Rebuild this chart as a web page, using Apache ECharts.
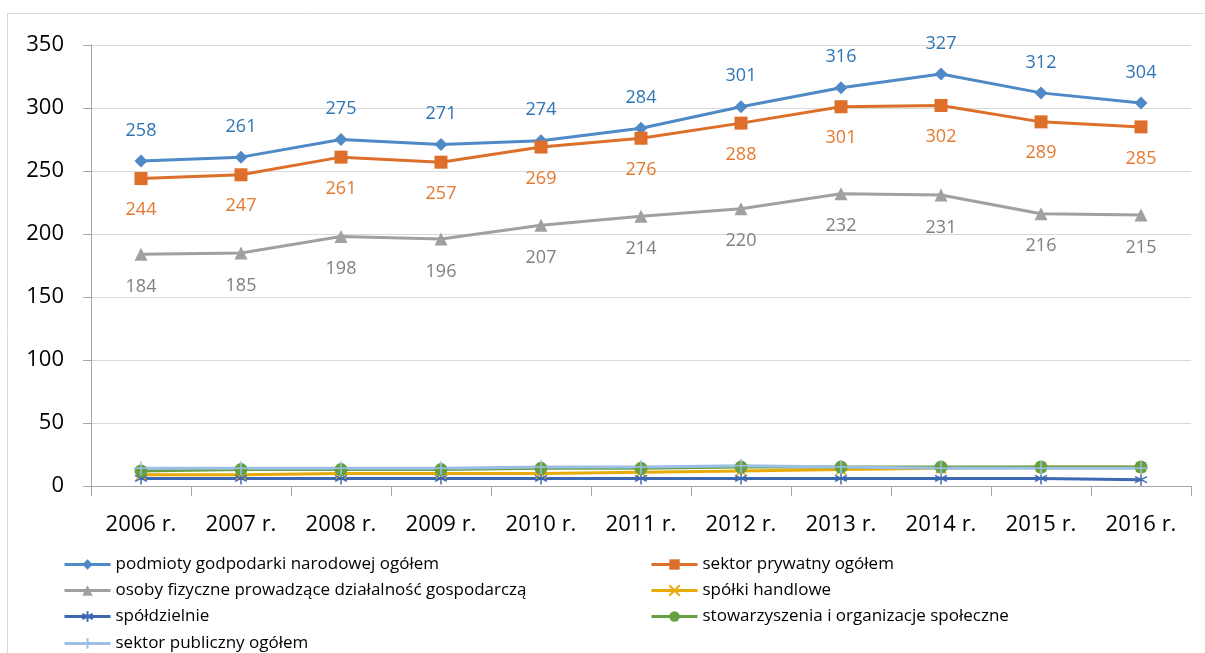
<!DOCTYPE html>
<html><head><meta charset="utf-8">
<script src="https://cdn.jsdelivr.net/npm/echarts@6/dist/echarts.min.js"></script>
<style>html,body{margin:0;padding:0;background:#fff}#c{width:1205px;height:653px}</style>
</head><body><div id="c"></div>
<script>
const categories = ['2006 r.','2007 r.','2008 r.','2009 r.','2010 r.','2011 r.','2012 r.','2013 r.','2014 r.','2015 r.','2016 r.'];
const podmiotyOgolem = [258,261,275,271,274,284,301,316,327,312,304];
const sektorPrywatny = [244,247,261,257,269,276,288,301,302,289,285];
const osobyFizyczne = [184,185,198,196,207,214,220,232,231,216,215];
const spolkiHandlowe = [9,9,10,10,10,11,12,13,14,15,15];
const spoldzielnie = [6,6,6,6,6,6,6,6,6,6,5];
const stowarzyszenia = [12,13,13,13,14,14,15,15,15,15,15];
const sektorPubliczny = [14,14,14,14,15,15,16,15,14,14,14];
const yTicks = [0,50,100,150,200,250,300,350];

const FONT = '"Open Sans", "Noto Sans", sans-serif';
const chart = echarts.init(document.getElementById('c'));

function mk(name, data, color, symbol, size, extra) {
  return Object.assign({
    name, type: 'line', data, symbol, symbolSize: size,
    lineStyle: { color, width: 3 },
    itemStyle: { color },
    z: 2
  }, extra || {});
}
const xPath = 'path://M0,0L10,10M10,0L0,10';
const starPath = 'path://M5,0L5,10M0.7,2.5L9.3,7.5M9.3,2.5L0.7,7.5';
const plusPath = 'path://M5,0L5,10M0,5L10,5';

const series = [
  mk('podmioty godpodarki narodowej ogółem', podmiotyOgolem, '#4F89C6', 'diamond', 13, {
    label: { show: true, position: 'top', distance: 15, color: '#2E75B6', fontSize: 18, fontFamily: FONT }
  }),
  mk('sektor prywatny ogółem', sektorPrywatny, '#DD6F2A', 'rect', 13, {
    label: { show: true, position: 'bottom', distance: 16, color: '#E5782F', fontSize: 18, fontFamily: FONT }
  }),
  mk('osoby fizyczne prowadzące działalność gospodarczą', osobyFizyczne, '#A0A0A0', 'triangle', 13, {
    label: { show: true, position: 'bottom', distance: 17, color: '#7F7F7F', fontSize: 18, fontFamily: FONT }
  }),
  mk('spółki handlowe', spolkiHandlowe, '#E7AA06', xPath, 10, {
    itemStyle: { color: 'none', borderColor: '#E7AA06', borderWidth: 1.5 }
  }),
  mk('spółdzielnie', spoldzielnie, '#3D68B2', starPath, 12, {
    itemStyle: { color: 'none', borderColor: '#3D68B2', borderWidth: 1.5 }
  }),
  mk('stowarzyszenia i organizacje społeczne', stowarzyszenia, '#66A043', 'circle', 13),
  mk('sektor publiczny ogółem', sektorPubliczny, '#9CC0E5', plusPath, 14, {
    itemStyle: { color: 'none', borderColor: '#9CC0E5', borderWidth: 1.5 }
  })
];

const legendText = { fontSize: 17, fontFamily: FONT, color: '#000' };
// legend layout: [series index, left, row center y]
const legendSlots = [[0, 63, 562], [1, 650, 562], [2, 63, 588], [3, 650, 588], [4, 63, 614], [5, 650, 614], [6, 63, 641]];
const legends = legendSlots.map(([i, left, cy]) => ({
  left, top: cy - 6, itemWidth: 46, itemHeight: 13, padding: 0, height: 24,
  lineStyle: { width: 3 },
  textStyle: legendText, data: [series[i].name]
}));

chart.setOption({
  animation: false,
  backgroundColor: '#fff',
  graphic: [{ type: 'rect', shape: { x: 7.5, y: 13.5, width: 1205, height: 700 },
    style: { fill: 'none', stroke: '#D9D9D9', lineWidth: 1 }, silent: true }],
  grid: { left: 91, right: 14, top: 45, bottom: 167 },
  legend: legends,
  xAxis: {
    type: 'category', data: categories, boundaryGap: true,
    axisLine: { lineStyle: { color: '#A6A6A6', width: 1 } },
    axisTick: { show: true, length: 10, lineStyle: { color: '#A6A6A6' } },
    axisLabel: { color: '#000', fontSize: 22, fontFamily: FONT, margin: 28 }
  },
  yAxis: {
    type: 'value', min: yTicks[0], max: yTicks[yTicks.length - 1], interval: 50,
    axisLine: { show: true, lineStyle: { color: '#A6A6A6' } },
    axisTick: { show: true, length: 8, lineStyle: { color: '#A6A6A6' } },
    axisLabel: { color: '#000', fontSize: 22, fontFamily: FONT, margin: 27 },
    splitLine: { lineStyle: { color: '#D9D9D9' } }
  },
  series
});
</script></body></html>
